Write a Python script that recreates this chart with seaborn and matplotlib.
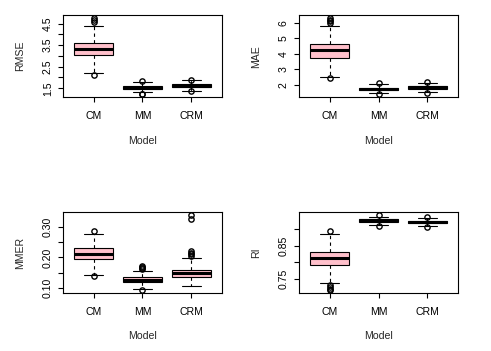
import matplotlib
matplotlib.use("Agg")
import matplotlib.pyplot as plt
import numpy as np
import pandas as pd
import seaborn as sns

sns.set_style("ticks")
plt.rcParams['font.family'] = ['Liberation Sans', 'DejaVu Sans']
plt.rcParams['font.size'] = 7.6

models = ['CM', 'MM', 'CRM']

# values (whisker ends, hinges, medians, outliers)
rmse_cm = [2.10, 2.21, 2.55, 2.85, 3.03, 3.12, 3.20, 3.27, 3.32, 3.40, 3.48, 3.55, 3.61, 4.41, 4.58, 4.67, 4.76]
rmse_mm = [1.22, 1.24, 1.31, 1.40, 1.46, 1.48, 1.50, 1.51, 1.52, 1.54, 1.56, 1.58, 1.60, 1.66, 1.72, 1.79, 1.84]
rmse_crm = [1.35, 1.38, 1.45, 1.52, 1.56, 1.58, 1.60, 1.61, 1.62, 1.64, 1.66, 1.68, 1.69, 1.74, 1.80, 1.87, 1.90]

mae_cm = [2.45, 2.52, 2.90, 3.30, 3.60, 3.77, 3.90, 4.00, 4.10, 4.18, 4.24, 4.30, 4.40, 4.48, 4.55, 4.62,
          5.83, 6.02, 6.12, 6.22, 6.32]
mae_mm = [1.40, 1.45, 1.55, 1.62, 1.67, 1.70, 1.72, 1.74, 1.75, 1.77, 1.79, 1.81, 1.83, 1.90, 1.97, 2.05, 2.12]
mae_crm = [1.48, 1.52, 1.60, 1.68, 1.75, 1.78, 1.80, 1.82, 1.84, 1.86, 1.88, 1.90, 1.92, 1.98, 2.06, 2.15, 2.19]

mmer_cm = [0.138, 0.143, 0.160, 0.180, 0.194, 0.200, 0.205, 0.209, 0.213, 0.217, 0.222, 0.226, 0.230,
           0.245, 0.262, 0.279, 0.287]
mmer_mm = [0.091, 0.095, 0.105, 0.110, 0.115, 0.118, 0.120, 0.122, 0.123, 0.125, 0.126, 0.128, 0.130,
           0.132, 0.134, 0.135, 0.156, 0.162, 0.165, 0.168, 0.171]
mmer_crm = [0.104, 0.110, 0.115, 0.119, 0.123, 0.126, 0.129, 0.132, 0.134, 0.136, 0.138, 0.140, 0.142,
            0.144, 0.145, 0.146, 0.147, 0.149, 0.150, 0.152, 0.154, 0.156, 0.158, 0.159, 0.160,
            0.192, 0.198, 0.204, 0.210, 0.216, 0.223, 0.329, 0.340]

ri_cm = [0.716, 0.721, 0.726, 0.731, 0.739, 0.793, 0.798, 0.803, 0.807, 0.810, 0.812, 0.816, 0.820,
         0.825, 0.829, 0.832, 0.845, 0.860, 0.873, 0.886, 0.893]
ri_mm = [0.909, 0.913, 0.916, 0.919, 0.922, 0.923, 0.924, 0.925, 0.926, 0.927, 0.9275, 0.928, 0.929,
         0.931, 0.934, 0.937, 0.941]
ri_crm = [0.905, 0.909, 0.911, 0.914, 0.917, 0.918, 0.919, 0.920, 0.921, 0.922, 0.9225, 0.923, 0.924,
          0.926, 0.929, 0.932, 0.936]

samples = {
    'RMSE': [rmse_cm, rmse_mm, rmse_crm],
    'MAE': [mae_cm, mae_mm, mae_crm],
    'MMER': [mmer_cm, mmer_mm, mmer_crm],
    'RI': [ri_cm, ri_mm, ri_crm],
}

yticks = {
    'RMSE': [1.5, 2.0, 2.5, 3.0, 3.5, 4.0, 4.5],
    'MAE': [2, 3, 4, 5, 6],
    'MMER': [0.10, 0.15, 0.20, 0.25, 0.30],
    'RI': [0.75, 0.80, 0.85, 0.90],
}
ytick_labels = {
    'RMSE': ['1.5', '', '2.5', '', '3.5', '', '4.5'],
    'MAE': ['2', '3', '4', '5', '6'],
    'MMER': ['0.10', '', '0.20', '', '0.30'],
    'RI': ['0.75', '', '0.85', ''],
}

# axes rectangles in figure fraction (left, bottom, width, height)
positions = {
    'RMSE': [0.1289, 0.7228, 0.3226, 0.2345],
    'MAE': [0.6096, 0.7228, 0.3226, 0.2345],
    'MMER': [0.1289, 0.1644, 0.3226, 0.2308],
    'RI': [0.6096, 0.1644, 0.3226, 0.2308],
}

fig = plt.figure(figsize=(4.91, 3.51), dpi=100)

for name in ['RMSE', 'MAE', 'MMER', 'RI']:
    groups = samples[name]
    df = pd.DataFrame({
        'Model': np.repeat(models, [len(g) for g in groups]),
        name: np.concatenate(groups),
    })
    ax = fig.add_axes(positions[name])
    sns.boxplot(data=df, x='Model', y=name, order=models, color='pink', saturation=1,
                width=0.8, linecolor='black', linewidth=0.8, whis=1.5, fliersize=3.8, ax=ax,
                medianprops=dict(linewidth=2.2),
                whiskerprops=dict(linestyle=(0, (3, 3))),
                flierprops=dict(marker='o', markerfacecolor='none', markeredgecolor='black',
                                markeredgewidth=1.0))

    # R style limits: data range plus 4%
    lo, hi = df[name].min(), df[name].max()
    pad = 0.04 * (hi - lo)
    ax.set_ylim(lo - pad, hi + pad)
    ax.set_xlim(-0.62, 2.62)
    ax.set_yticks(yticks[name])
    ax.set_yticklabels(ytick_labels[name])

    for sp in ax.spines.values():
        sp.set_visible(True)
        sp.set_color('black')
        sp.set_linewidth(0.8)
    ax.tick_params(axis='both', direction='out', length=3.6, width=0.8, color='black',
                   labelcolor='black', labelsize=7.6)
    ax.tick_params(axis='x', pad=6.5)
    ax.tick_params(axis='y', pad=4, labelrotation=90)
    for lab in ax.get_yticklabels():
        lab.set_va('center')

    ax.set_xlabel('Model', fontsize=7.6)
    ax.set_ylabel(name, fontsize=7.6)
    ax.xaxis.set_label_coords(0.5, -0.47)
    ax.yaxis.set_label_coords(-0.242, 0.5)

fig.savefig('out.png', dpi=100)
